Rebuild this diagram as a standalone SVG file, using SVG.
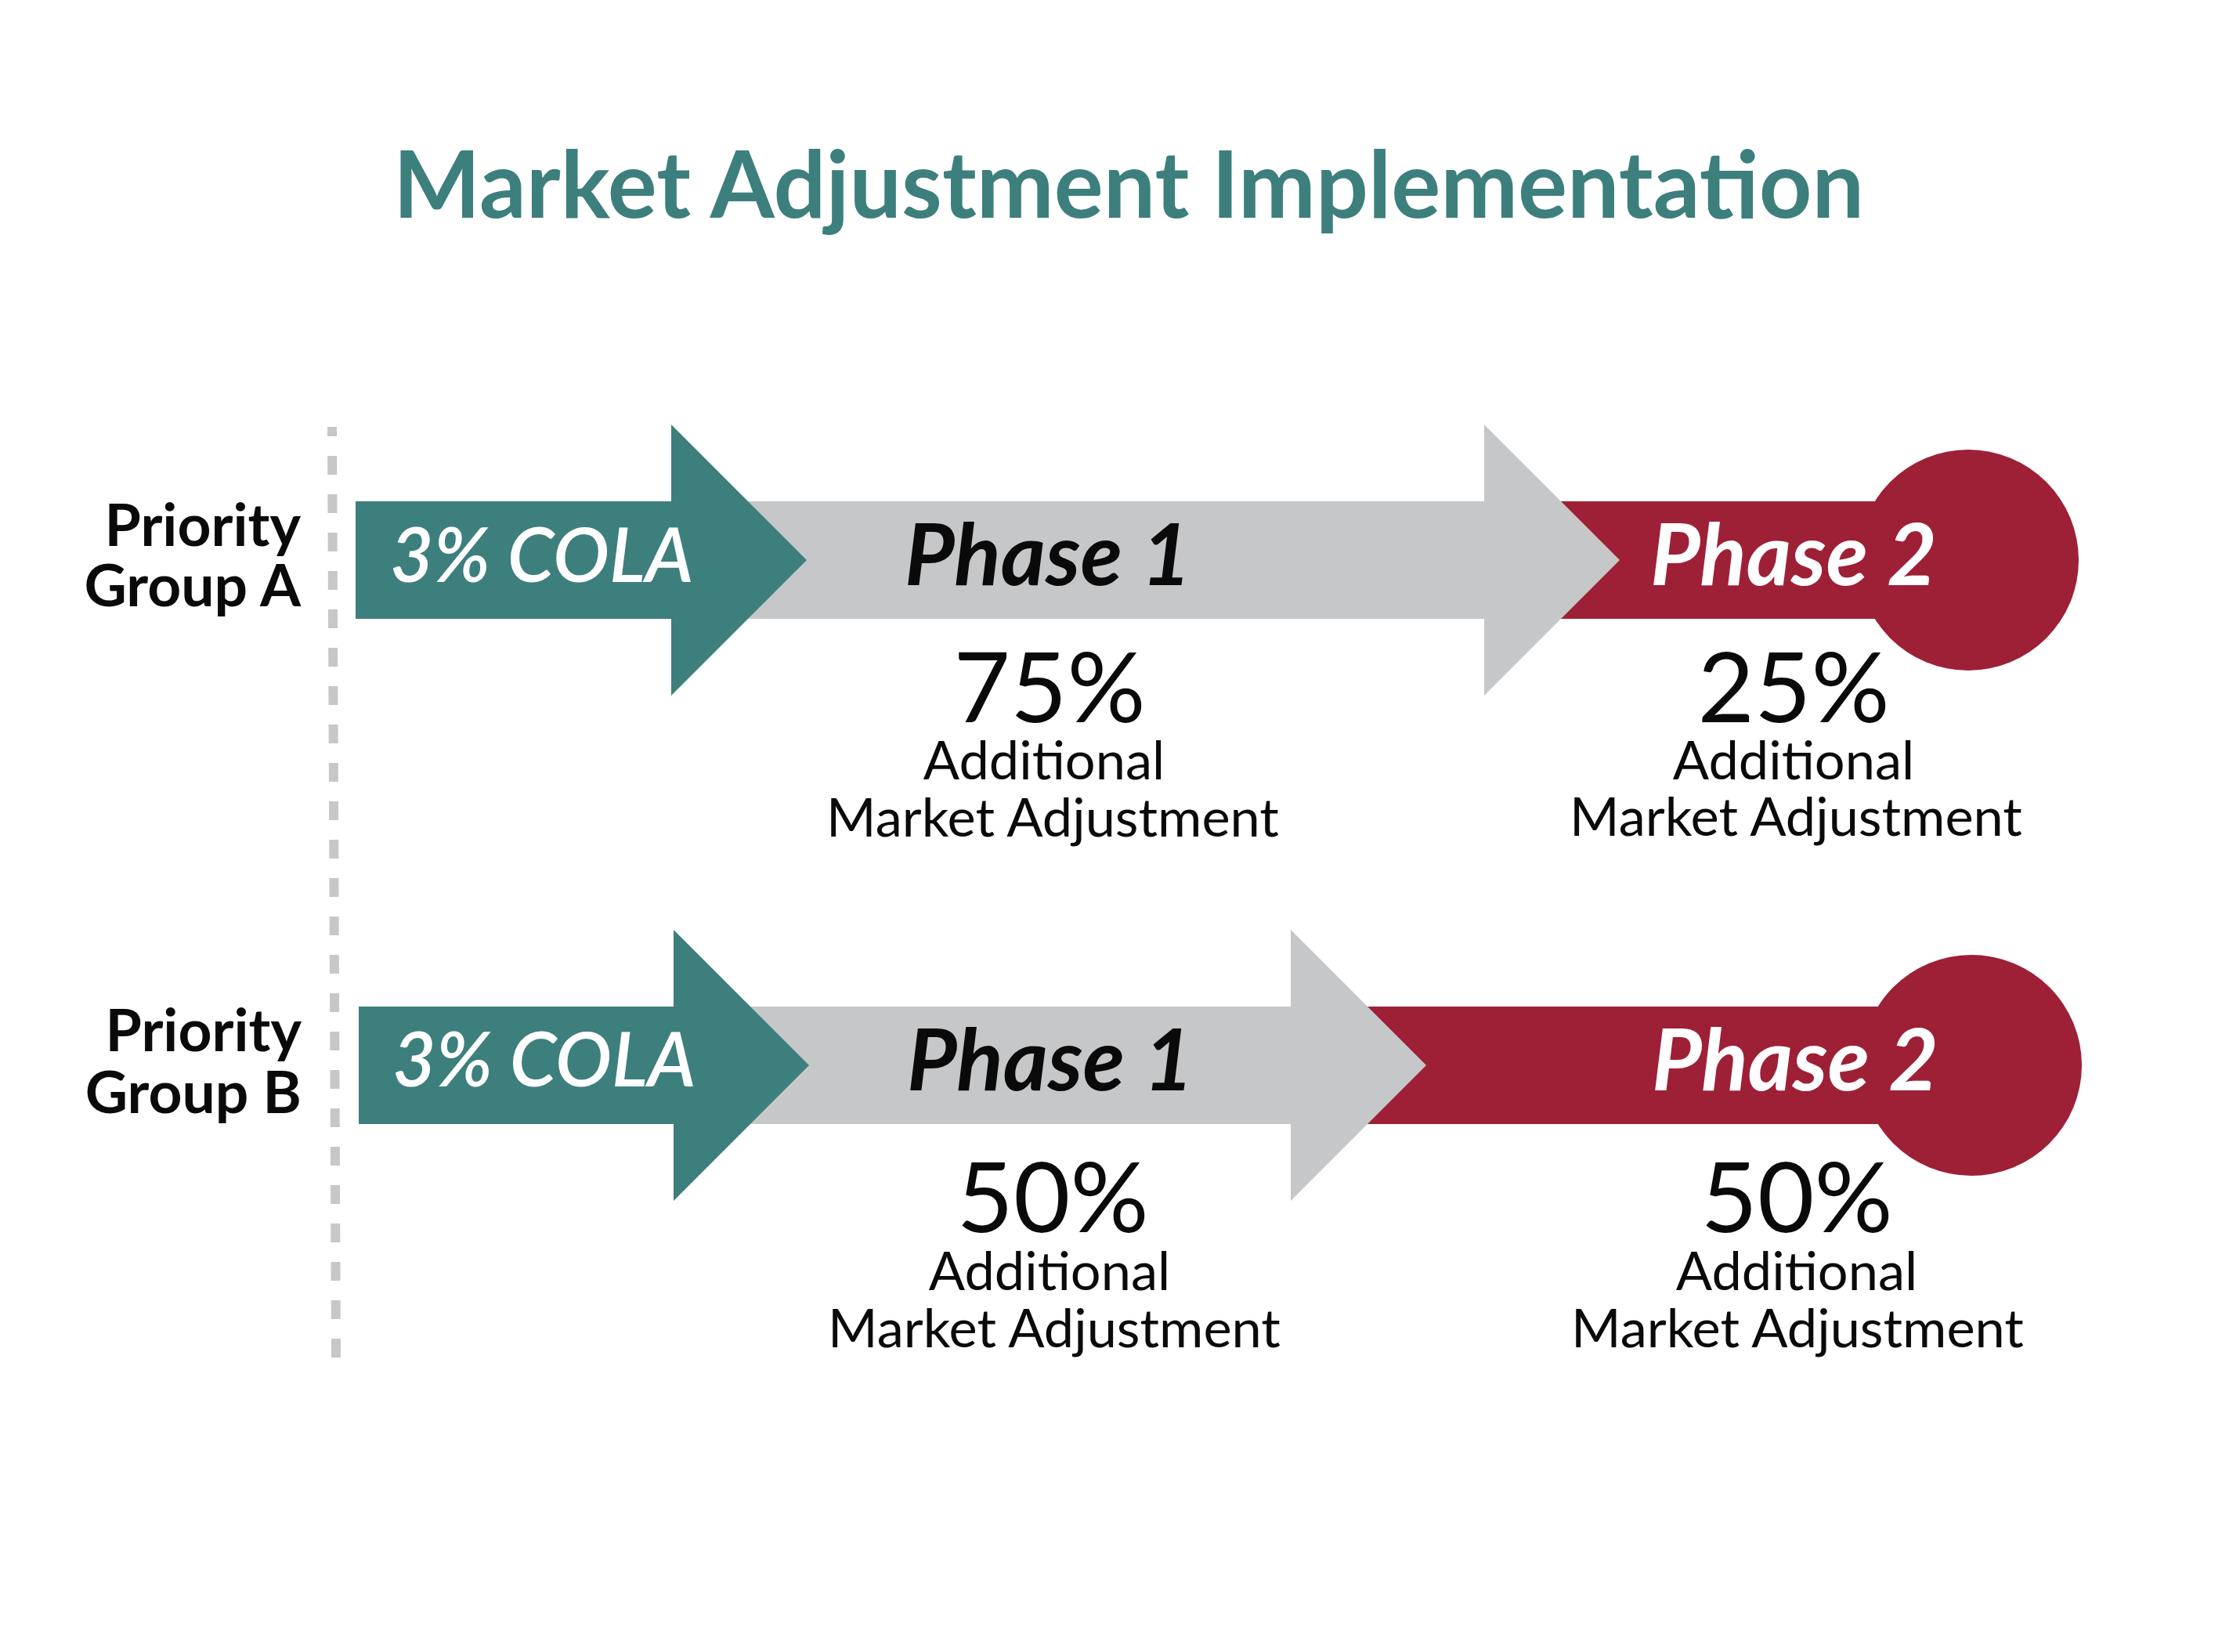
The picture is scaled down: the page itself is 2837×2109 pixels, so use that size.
<svg xmlns="http://www.w3.org/2000/svg" width="2837" height="2109" viewBox="0 0 2837 2109">
  <style>
    .title { font-family: Lato, "Liberation Sans", sans-serif; font-weight: 700; font-size: 118px; fill: #3d7f7d; }
    .group { font-family: Lato, "Liberation Sans", sans-serif; font-weight: 700; font-size: 75px; fill: #0a0a0a; text-anchor: end; }
    .cola { font-family: Lato, "Liberation Sans", sans-serif; font-weight: 600; font-style: italic; font-size: 96px; fill: #ffffff; }
    .phase { font-family: Lato, "Liberation Sans", sans-serif; font-weight: 700; font-style: italic; font-size: 110px; text-anchor: middle; }
    .pct { font-family: Lato, "Liberation Sans", sans-serif; font-weight: 400; font-size: 125px; fill: #0a0a0a; text-anchor: middle; }
    .desc { font-family: Lato, "Liberation Sans", sans-serif; font-weight: 400; font-size: 68.5px; fill: #0a0a0a; text-anchor: middle; }
    .teal { fill: #3d7f7d; }
    .gray { fill: #c6c7c9; }
    .red { fill: #9e2036; }
  </style>
  <rect width="2837" height="2109" fill="#ffffff"/>

  <text class="title" x="1441" y="278" text-anchor="middle">Market Adjustment Implementation</text>

  <g id="divider">
    <line x1="424" y1="545" x2="429" y2="1733" stroke="#c6c7c9" stroke-width="12" stroke-dasharray="24 25" stroke-dashoffset="12"/>
  </g>

  <g id="group-a-label">
    <text class="group" x="384" y="697">Priority</text>
    <text class="group" x="384" y="774">Group A</text>
  </g>
  <g id="group-b-label">
    <text class="group" x="385" y="1342">Priority</text>
    <text class="group" x="385" y="1421">Group B</text>
  </g>

  <g id="connectors"></g>

  <!-- Row A -->
  <g id="a-phase2">
    <rect class="red" x="1960" y="640" width="553" height="150"/>
    <circle class="red" cx="2513" cy="715" r="141"/>
    <text class="phase" x="2290" y="747" fill="#ffffff">Phase 2</text>
  </g>
  <g id="a-phase1">
    <polygon class="gray" points="930,640 1895,640 1895,542 2068,715 1895,888 1895,790 930,790"/>
    <text class="phase" x="1338" y="747" fill="#0a0a0a">Phase 1</text>
  </g>
  <g id="a-cola">
    <polygon class="teal" points="454,640 857,640 857,542 1030,715 857,888 857,790 454,790"/>
    <text class="cola" x="498" y="743">3% COLA</text>
  </g>
  <g id="a-phase1-note">
    <text class="pct" x="1340" y="922">75%</text>
    <text class="desc" x="1333" y="995">Additional</text>
    <text class="desc" x="1344" y="1068">Market Adjustment</text>
  </g>
  <g id="a-phase2-note">
    <text class="pct" x="2290" y="922">25%</text>
    <text class="desc" x="2290" y="995">Additional</text>
    <text class="desc" x="2293" y="1067">Market Adjustment</text>
  </g>

  <!-- Row B -->
  <g id="b-phase2">
    <rect class="red" x="1720" y="1285" width="797" height="150"/>
    <circle class="red" cx="2517" cy="1360" r="141"/>
    <text class="phase" x="2292" y="1392" fill="#ffffff">Phase 2</text>
  </g>
  <g id="b-phase1">
    <polygon class="gray" points="930,1285 1648,1285 1648,1187 1821,1360 1648,1533 1648,1435 930,1435"/>
    <text class="phase" x="1341" y="1392" fill="#0a0a0a">Phase 1</text>
  </g>
  <g id="b-cola">
    <polygon class="teal" points="458,1285 860,1285 860,1187 1033,1360 860,1533 860,1435 458,1435"/>
    <text class="cola" x="501" y="1387">3% COLA</text>
  </g>
  <g id="b-phase1-note">
    <text class="pct" x="1344" y="1573">50%</text>
    <text class="desc" x="1340" y="1647">Additional</text>
    <text class="desc" x="1346" y="1720">Market Adjustment</text>
  </g>
  <g id="b-phase2-note">
    <text class="pct" x="2294" y="1573">50%</text>
    <text class="desc" x="2294" y="1647">Additional</text>
    <text class="desc" x="2295" y="1720">Market Adjustment</text>
  </g>
</svg>
